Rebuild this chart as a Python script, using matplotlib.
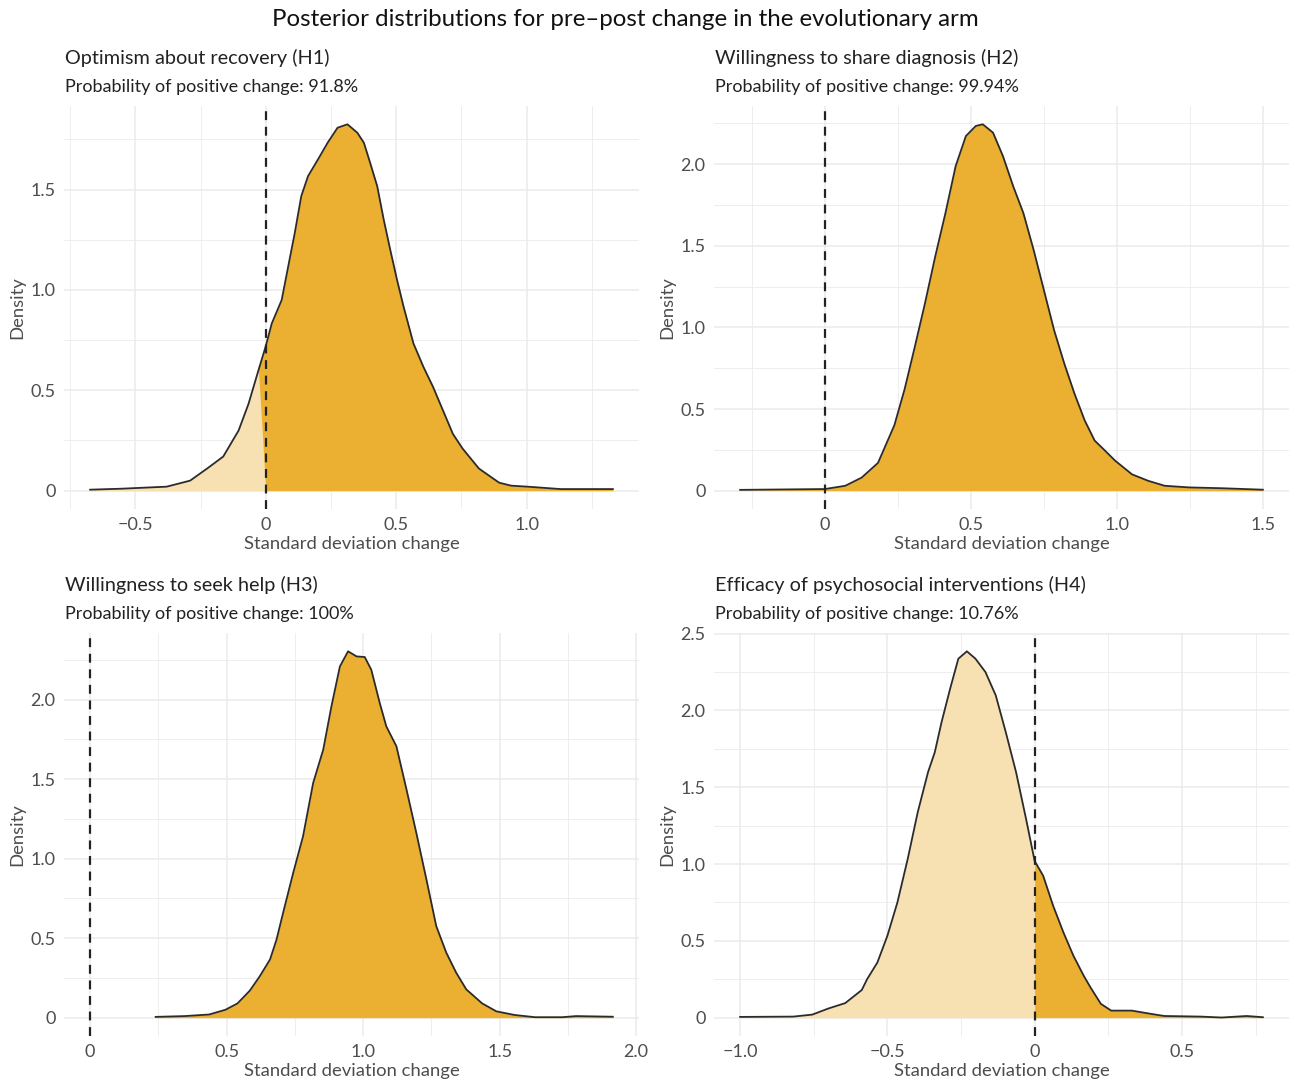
import numpy as np
import matplotlib
matplotlib.use("Agg")
import matplotlib.pyplot as plt

plt.rcParams['font.family'] = ['Lato', 'DejaVu Sans']

# --- data (x = SD change, d = density) ---
h1_x = [-0.673, -0.55, -0.38, -0.29, -0.225, -0.163, -0.104, -0.066, -0.028, 0.0,
        0.023, 0.061, 0.086, 0.111, 0.136, 0.162, 0.20, 0.237, 0.275, 0.313,
        0.351, 0.376, 0.40, 0.427, 0.452, 0.477, 0.503, 0.528, 0.566, 0.604,
        0.641, 0.679, 0.717, 0.754, 0.817, 0.894, 0.94, 1.003, 1.13, 1.33]
h1_d = [0.005, 0.01, 0.02, 0.05, 0.11, 0.17, 0.30, 0.433, 0.60, 0.72,
        0.833, 0.95, 1.117, 1.283, 1.467, 1.567, 1.65, 1.733, 1.808, 1.825,
        1.783, 1.733, 1.633, 1.517, 1.35, 1.20, 1.05, 0.917, 0.733, 0.617,
        0.517, 0.40, 0.283, 0.21, 0.11, 0.04, 0.025, 0.02, 0.008, 0.008]

h2_x = [-0.29, 0.0, 0.07, 0.126, 0.182, 0.238, 0.273, 0.308, 0.343, 0.378,
        0.413, 0.448, 0.483, 0.517, 0.541, 0.576, 0.61, 0.645, 0.68, 0.715,
        0.75, 0.785, 0.82, 0.855, 0.89, 0.924, 0.959, 0.994, 1.052, 1.108,
        1.164, 1.248, 1.36, 1.5]
h2_d = [0.005, 0.01, 0.03, 0.08, 0.17, 0.40, 0.62, 0.88, 1.148, 1.434,
        1.70, 1.988, 2.172, 2.234, 2.244, 2.193, 2.049, 1.865, 1.70, 1.475,
        1.23, 0.984, 0.779, 0.594, 0.43, 0.307, 0.246, 0.184, 0.10, 0.06,
        0.03, 0.02, 0.015, 0.006]

h3_x = [0.24, 0.346, 0.436, 0.496, 0.54, 0.585, 0.622, 0.659, 0.683, 0.707,
        0.744, 0.78, 0.817, 0.854, 0.884, 0.915, 0.945, 0.976, 1.006, 1.03,
        1.061, 1.085, 1.122, 1.159, 1.195, 1.232, 1.268, 1.305, 1.341, 1.378,
        1.436, 1.488, 1.555, 1.63, 1.73, 1.78, 1.915]
h3_d = [0.005, 0.01, 0.02, 0.05, 0.09, 0.17, 0.262, 0.366, 0.492, 0.66,
        0.911, 1.141, 1.476, 1.686, 1.958, 2.209, 2.304, 2.272, 2.268, 2.188,
        1.979, 1.832, 1.707, 1.435, 1.162, 0.869, 0.576, 0.408, 0.283, 0.178,
        0.09, 0.04, 0.017, 0.003, 0.003, 0.01, 0.006]

h4_x = [-1.0, -0.82, -0.755, -0.7, -0.643, -0.587, -0.569, -0.534, -0.5, -0.466,
        -0.431, -0.397, -0.362, -0.339, -0.316, -0.287, -0.259, -0.23, -0.201, -0.167,
        -0.132, -0.098, -0.063, -0.029, 0.0, 0.029, 0.063, 0.098, 0.132, 0.167,
        0.19, 0.225, 0.26, 0.33, 0.385, 0.44, 0.565, 0.635, 0.72, 0.775]
h4_d = [0.005, 0.007, 0.02, 0.06, 0.095, 0.18, 0.25, 0.359, 0.533, 0.75,
        1.033, 1.337, 1.598, 1.728, 1.924, 2.141, 2.337, 2.385, 2.337, 2.25,
        2.098, 1.859, 1.598, 1.293, 1.02, 0.924, 0.728, 0.554, 0.402, 0.272,
        0.196, 0.09, 0.046, 0.046, 0.028, 0.011, 0.007, 0.001, 0.011, 0.003]

titles = ["Optimism about recovery (H1)", "Willingness to share diagnosis (H2)",
          "Willingness to seek help (H3)", "Efficacy of psychosocial interventions (H4)"]
probs = ["91.8%", "99.94%", "100%", "10.76%"]
xticks = [[-0.5, 0, 0.5, 1.0], [0, 0.5, 1.0, 1.5], [0, 0.5, 1.0, 1.5, 2.0], [-1.0, -0.5, 0, 0.5]]
yticks = [[0, 0.5, 1.0, 1.5], [0, 0.5, 1.0, 1.5, 2.0], [0, 0.5, 1.0, 1.5, 2.0],
          [0, 0.5, 1.0, 1.5, 2.0, 2.5]]
series = [(h1_x, h1_d), (h2_x, h2_d), (h3_x, h3_d), (h4_x, h4_d)]

W, H = 1290, 1086
fig = plt.figure(figsize=(W / 100, H / 100), dpi=100)

dark = '#EBB031'
light = '#F7E0B2'
grid_c = '#EBEBEB'
txt_c = '#4D4D4D'

# axes boxes in pixels: left, top, right, bottom
boxes = [(64, 106, 639, 509), (714, 106, 1289, 509),
         (64, 633, 639, 1036), (714, 633, 1289, 1036)]


def fmt(v):
    if v == 0:
        return "0"
    return "{:.1f}".format(v).replace("-", "\u2212")


for i, (xs, ds) in enumerate(series):
    l, t, r, b = boxes[i]
    ax = fig.add_axes([l / W, 1 - b / H, (r - l) / W, (b - t) / H])
    x = np.array(xs)
    d = np.array(ds)

    ax.fill_between(x, d, where=x <= 0, color=light, lw=0, interpolate=True)
    ax.fill_between(x, d, where=x >= 0, color=dark, lw=0, interpolate=True)
    ax.plot(x, d, color='#2b2b2b', lw=1.3)
    ax.axvline(0, color='#222222', lw=1.6, ls=(0, (4, 3)))

    xt = xticks[i]
    yt = yticks[i]
    ax.set_xticks(xt)
    ax.set_xticklabels([fmt(v) for v in xt])
    ax.set_yticks(yt)
    ax.set_yticklabels([fmt(v) for v in yt])
    ax.set_xticks([(xt[k] + xt[k + 1]) / 2 for k in range(len(xt) - 1)] +
                  [xt[0] - 0.25, xt[-1] + 0.25], minor=True)
    ax.set_yticks([(yt[k] + yt[k + 1]) / 2 for k in range(len(yt) - 1)] +
                  [yt[-1] + 0.25], minor=True)

    # ggplot-style 5% expansion, with the 0 line included
    lo, hi = min(x.min(), 0), max(x.max(), 0)
    pad = (hi - lo) * 0.05
    ax.set_xlim(lo - pad, hi + pad)
    ypad = d.max() * 0.05
    ax.set_ylim(-ypad, d.max() + ypad)

    ax.grid(which='major', color=grid_c, lw=1.1)
    ax.grid(which='minor', color=grid_c, lw=0.6)
    ax.set_axisbelow(True)
    for s in ax.spines.values():
        s.set_visible(False)
    ax.tick_params(which='both', length=0, labelsize=13, colors=txt_c, pad=6)
    ax.set_xlabel("Standard deviation change", fontsize=13.3, color=txt_c, labelpad=2)
    ax.set_ylabel("Density", fontsize=13.3, color=txt_c)
    ax.yaxis.set_label_coords(-0.068, 0.5)

    fig.text((l + 1) / W, 1 - (t - 48) / H, titles[i], fontsize=14.3, color='#222222',
             va='center', ha='left')
    fig.text((l + 1) / W, 1 - (t - 19) / H, "Probability of positive change: " + probs[i],
             fontsize=13, color='#222222', va='center', ha='left')

fig.text(0.485, 1 - 20 / H, "Posterior distributions for pre\u2013post change in the evolutionary arm",
         fontsize=17.3, color='#111111', ha='center', va='center')

fig.savefig("out.png", dpi=100, facecolor='white')
